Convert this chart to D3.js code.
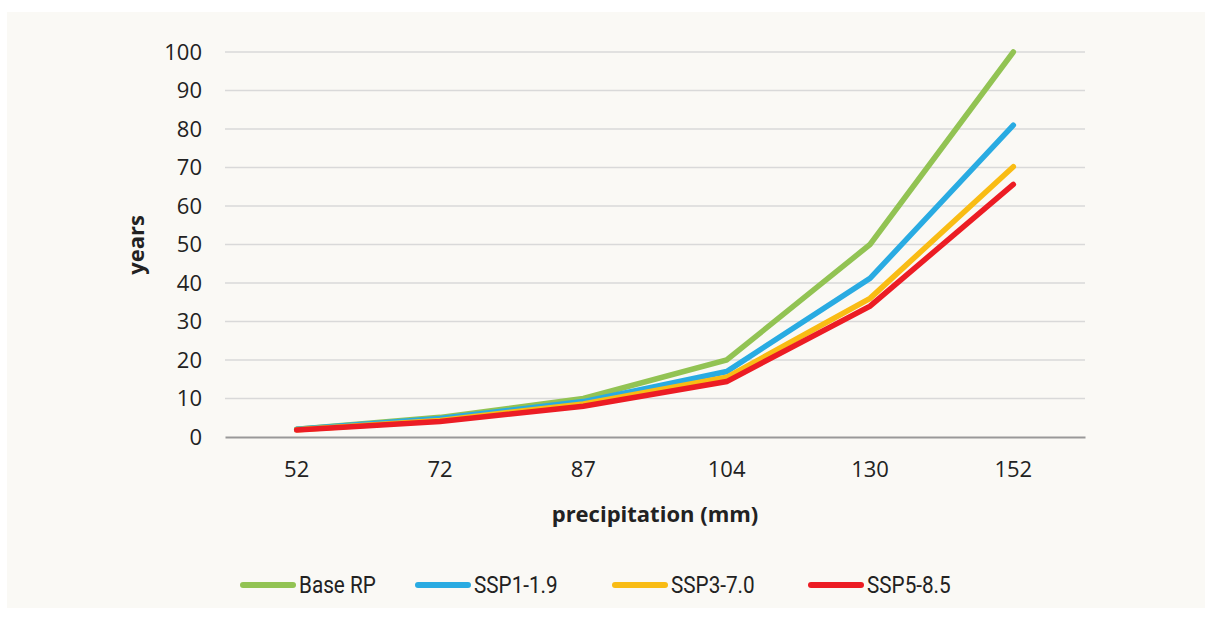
<!DOCTYPE html>
<html>
<head>
<meta charset="utf-8">
<script src="https://cdn.jsdelivr.net/npm/d3@7"></script>
<style>
  html, body { margin: 0; padding: 0; background: #ffffff; }
  svg { display: block; }
</style>
</head>
<body>
<svg id="chart" width="1213" height="621"></svg>
<script>
// Return period (years) against precipitation threshold, per climate scenario
const categories = ["52", "72", "87", "104", "130", "152"];
const baseRP  = [2.0, 5.1, 10.0, 20.0, 50.0, 100.0];
const ssp119  = [2.0, 4.8, 9.2, 17.0, 41.2, 81.0];
const ssp370  = [1.9, 4.3, 8.6, 15.5, 36.0, 70.2];
const ssp585  = [1.8, 4.0, 8.0, 14.4, 34.0, 65.6];
const seriesNames = ["Base RP", "SSP1-1.9", "SSP3-7.0", "SSP5-8.5"];
const seriesColors = ["#92c353", "#29abe2", "#f9bc14", "#ec1c24"];
const yTicks = [0, 10, 20, 30, 40, 50, 60, 70, 80, 90, 100];

const series = [baseRP, ssp119, ssp370, ssp585].map((values, i) => ({
  name: seriesNames[i], color: seriesColors[i], values
}));

const svg = d3.select("#chart");
const font = "'Open Sans', sans-serif";

// chart area background panel
svg.append("rect")
  .attr("x", 7).attr("y", 12)
  .attr("width", 1198).attr("height", 596)
  .attr("fill", "#faf9f5");

const plot = { left: 225, right: 1085, top: 52, bottom: 437 };

const x = d3.scaleBand()
  .domain(categories)
  .range([plot.left, plot.right]);

const y = d3.scaleLinear()
  .domain([0, 100])
  .range([plot.bottom, plot.top]);

// horizontal gridlines
svg.append("g")
  .selectAll("line")
  .data(yTicks.filter(d => d > 0))
  .join("line")
  .attr("x1", plot.left).attr("x2", plot.right)
  .attr("y1", d => y(d)).attr("y2", d => y(d))
  .attr("stroke", "#d9d9d9")
  .attr("stroke-width", 1.5);

// y axis labels
const yAxis = svg.append("g")
  .attr("transform", `translate(${plot.left},0)`)
  .call(d3.axisLeft(y).tickValues(yTicks).tickSize(0).tickPadding(23));
yAxis.select(".domain").remove();
yAxis.selectAll("text")
  .attr("font-family", font)
  .attr("font-size", 22)
  .attr("fill", "#222");

// x axis
const xAxis = svg.append("g")
  .attr("transform", `translate(0,${plot.bottom})`)
  .call(d3.axisBottom(x).tickSize(0).tickPadding(24));
xAxis.select(".domain")
  .attr("stroke", "#999999")
  .attr("stroke-width", 1.8);
xAxis.selectAll("text")
  .attr("font-family", font)
  .attr("font-size", 22)
  .attr("fill", "#222");

// axis titles
svg.append("text")
  .attr("x", 655).attr("y", 522)
  .attr("text-anchor", "middle")
  .attr("font-family", font)
  .attr("font-weight", "bold")
  .attr("font-size", 22)
  .attr("fill", "#222")
  .text("precipitation (mm)");

svg.append("text")
  .attr("transform", "translate(144,245) rotate(-90)")
  .attr("text-anchor", "middle")
  .attr("font-family", font)
  .attr("font-weight", "bold")
  .attr("font-size", 22)
  .attr("fill", "#222")
  .text("years");

// series lines
const line = d3.line()
  .x((d, i) => x(categories[i]) + x.bandwidth() / 2)
  .y(d => y(d));

svg.append("g")
  .selectAll("path")
  .data(series)
  .join("path")
  .attr("d", d => line(d.values))
  .attr("fill", "none")
  .attr("stroke", d => d.color)
  .attr("stroke-width", 5.5)
  .attr("stroke-linecap", "round")
  .attr("stroke-linejoin", "miter");

// legend: swatch line followed by series name
const legendX = [243, 418, 615, 811];
const legend = svg.append("g")
  .selectAll("g")
  .data(series)
  .join("g")
  .attr("transform", (d, i) => `translate(${legendX[i]},585)`);
legend.append("line")
  .attr("x1", 0).attr("x2", 50)
  .attr("stroke", d => d.color)
  .attr("stroke-width", 6)
  .attr("stroke-linecap", "round");
legend.append("text")
  .attr("transform", "translate(56,8) scale(0.9,1)")
  .attr("font-family", "Roboto, sans-serif")
  .attr("font-size", 23)
  .attr("font-weight", 400)
  .attr("fill", "#222")
  .text(d => d.name);
</script>
</body>
</html>
